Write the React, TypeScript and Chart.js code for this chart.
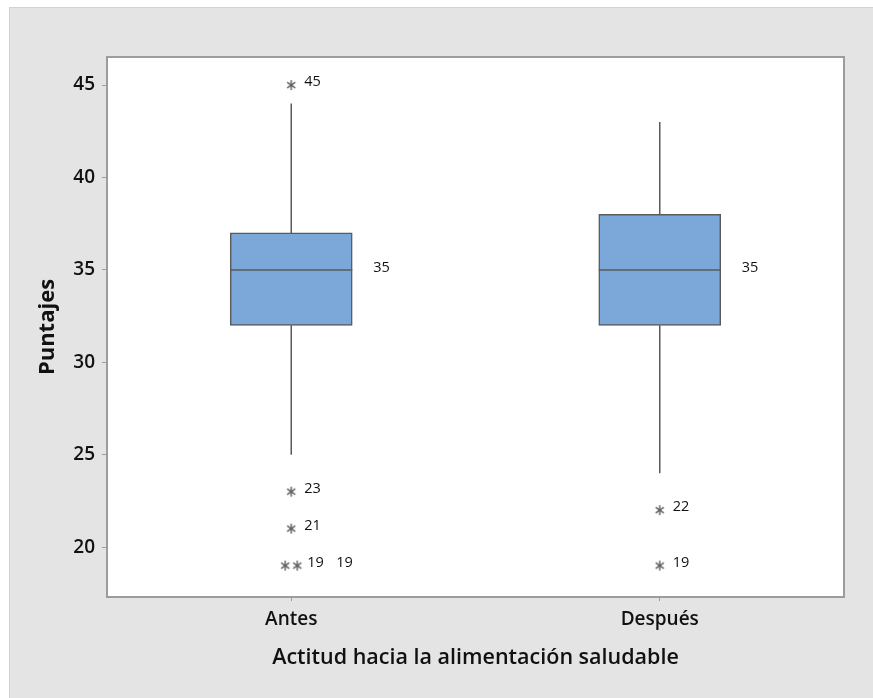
import React, { useEffect, useRef } from 'react';
import { Chart, registerables } from 'chart.js';

Chart.register(...registerables);

// ---------- data ----------
const categories = ['Antes', 'Después'];
const q1 = [32, 32];
const medians = [35, 35];
const q3 = [37, 38];
const whiskerLow = [25, 24];
const whiskerHigh = [44, 43];
const outliersAntes = [45, 23, 21, 19, 19];
const outliersDespues = [22, 19];
const outlierGroups = [outliersAntes, outliersDespues];
const yTickValues = [20, 25, 30, 35, 40, 45];
const yMin = 17.3;
const yMax = 46.52;
const xTitle = 'Actitud hacia la alimentación saludable';
const yTitle = 'Puntajes';

// ---------- styling ----------
const FONT = "'Open Sans', 'Noto Sans', sans-serif";
const INK = '#5a5a5a';
const TEXT = '#111111';
const BOX_FILL = '#7ba7d9';
const FRAME = '#9c9c9c';
const JITTER = 0.0163; // half spacing of duplicate stars, in x units

type OPoint = { x: number; y: number; cat: number; rank: number; n: number };

function buildOutlierPoints(): OPoint[] {
  const pts: OPoint[] = [];
  outlierGroups.forEach((vals, cat) => {
    const counts: Record<number, number> = {};
    vals.forEach((v) => (counts[v] = (counts[v] || 0) + 1));
    const seen: Record<number, number> = {};
    vals.forEach((v) => {
      const n = counts[v];
      const rank = (seen[v] = seen[v] === undefined ? 0 : seen[v] + 1);
      const off = n > 1 ? (rank - (n - 1) / 2) * 2 * JITTER : 0;
      pts.push({ x: cat + off, y: v, cat, rank, n });
    });
  });
  return pts;
}

function makeAsterisk(): HTMLCanvasElement {
  const c = document.createElement('canvas');
  const s = 12;
  c.width = s;
  c.height = s;
  const ctx = c.getContext('2d')!;
  ctx.strokeStyle = '#5f5f5f';
  ctx.lineWidth = 1.4;
  const cx = s / 2;
  const cy = s / 2;
  const r = 5;
  for (const a of [90, 35, 145]) {
    const rad = (a * Math.PI) / 180;
    ctx.beginPath();
    ctx.moveTo(cx - r * Math.cos(rad), cy - r * Math.sin(rad));
    ctx.lineTo(cx + r * Math.cos(rad), cy + r * Math.sin(rad));
    ctx.stroke();
  }
  return c;
}

export default function App() {
  const ref = useRef<HTMLCanvasElement | null>(null);

  useEffect(() => {
    if (!ref.current) return;
    const outlierPoints = buildOutlierPoints();
    const star = makeAsterisk();

    const boxPlugin = {
      id: 'boxplotExtras',
      beforeDraw(chart: any) {
        const { ctx, chartArea: a } = chart;
        ctx.save();
        ctx.fillStyle = '#ffffff';
        ctx.fillRect(a.left, a.top, a.right - a.left, a.bottom - a.top);
        ctx.restore();
      },
      afterDatasetsDraw(chart: any) {
        const { ctx, chartArea: a } = chart;
        const xs = chart.scales.x;
        const ys = chart.scales.y;
        const meta = chart.getDatasetMeta(0);
        ctx.save();
        ctx.strokeStyle = INK;
        ctx.lineWidth = 1.5;
        const line = (x1: number, y1: number, x2: number, y2: number) => {
          ctx.beginPath();
          ctx.moveTo(x1, y1);
          ctx.lineTo(x2, y2);
          ctx.stroke();
        };
        ctx.font = `14.5px ${FONT}`;
        ctx.fillStyle = '#111111';
        ctx.textBaseline = 'middle';
        ctx.textAlign = 'left';
        categories.forEach((_, i) => {
          const bar = meta.data[i];
          const cx = xs.getPixelForValue(i);
          const half = bar.width / 2;
          line(cx, ys.getPixelForValue(q3[i]), cx, ys.getPixelForValue(whiskerHigh[i]));
          line(cx, ys.getPixelForValue(q1[i]), cx, ys.getPixelForValue(whiskerLow[i]));
          const my = ys.getPixelForValue(medians[i]);
          line(cx - half, my, cx + half, my);
          ctx.fillText(String(medians[i]), cx + half + 21, my - 2);
        });
        const sm = chart.getDatasetMeta(1);
        outlierPoints.forEach((p, j) => {
          const el = sm.data[j];
          const cx = xs.getPixelForValue(p.cat);
          const lx = cx + 13 + (p.n > 1 ? 3 + p.rank * 29 : 0);
          ctx.fillText(String(p.y), lx, el.y - 3);
        });
        ctx.strokeStyle = FRAME;
        ctx.lineWidth = 2;
        ctx.strokeRect(a.left, a.top, a.right - a.left, a.bottom - a.top);
        ctx.restore();
      },
    };

    const chart = new Chart(ref.current, {
      type: 'bar',
      data: {
        datasets: [
          {
            type: 'bar',
            data: categories.map((_, i) => ({ x: i, y: [q1[i], q3[i]] })) as any,
            backgroundColor: BOX_FILL,
            borderColor: INK,
            borderWidth: 1.5,
            borderSkipped: false,
            barThickness: 122,
            order: 2,
          } as any,
          {
            type: 'scatter',
            data: outlierPoints.map((p) => ({ x: p.x, y: p.y })),
            pointStyle: star,
            pointRadius: 6,
            order: 1,
          } as any,
        ],
      },
      options: {
        responsive: false,
        animation: false,
        layout: { padding: { top: 49, right: 29, left: 0, bottom: 0 } },
        plugins: { legend: { display: false }, tooltip: { enabled: false } },
        scales: {
          x: {
            type: 'linear',
            min: -0.5,
            max: 1.5,
            offset: false,
            afterFit: (s: any) => {
              s.height = 101;
            },
            afterBuildTicks: (s: any) => {
              s.ticks = categories.map((_, i) => ({ value: i }));
            },
            ticks: {
              callback: (v: any) => categories[v] ?? '',
              font: { family: FONT, size: 19, weight: '600' },
              color: TEXT,
              padding: 7,
              maxRotation: 0,
              autoSkip: false,
            },
            grid: { drawOnChartArea: false, tickLength: 4, color: FRAME, offset: false },
            border: { display: false },
            title: {
              display: true,
              text: xTitle,
              font: { family: FONT, size: 21.5, weight: '600' },
              color: TEXT,
              padding: { top: 0, bottom: 27 },
            },
          } as any,
          y: {
            min: yMin,
            max: yMax,
            afterFit: (s: any) => {
              s.width = 97;
            },
            afterBuildTicks: (s: any) => {
              s.ticks = yTickValues.map((v) => ({ value: v }));
            },
            ticks: {
              font: { family: FONT, size: 19, weight: '600' },
              color: TEXT,
              padding: 7,
            },
            grid: { drawOnChartArea: false, tickLength: 5, color: FRAME },
            border: { display: false },
            title: {
              display: true,
              text: yTitle,
              font: { family: FONT, size: 22, weight: 'bold' },
              color: TEXT,
              padding: { top: 25, bottom: 0 },
            },
          } as any,
        },
      },
      plugins: [boxPlugin as any],
    });
    return () => chart.destroy();
  }, []);

  return (
    <div
      style={{
        position: 'fixed',
        left: 9,
        top: 7,
        right: 0,
        bottom: 0,
        background: '#e4e4e4',
        borderLeft: '1px solid #d2d2d2',
        borderTop: '1px solid #d2d2d2',
        overflow: 'hidden',
      }}
    >
      <canvas ref={ref} width={863} height={690} style={{ display: 'block', width: 863, height: 690 }} />
    </div>
  );
}
